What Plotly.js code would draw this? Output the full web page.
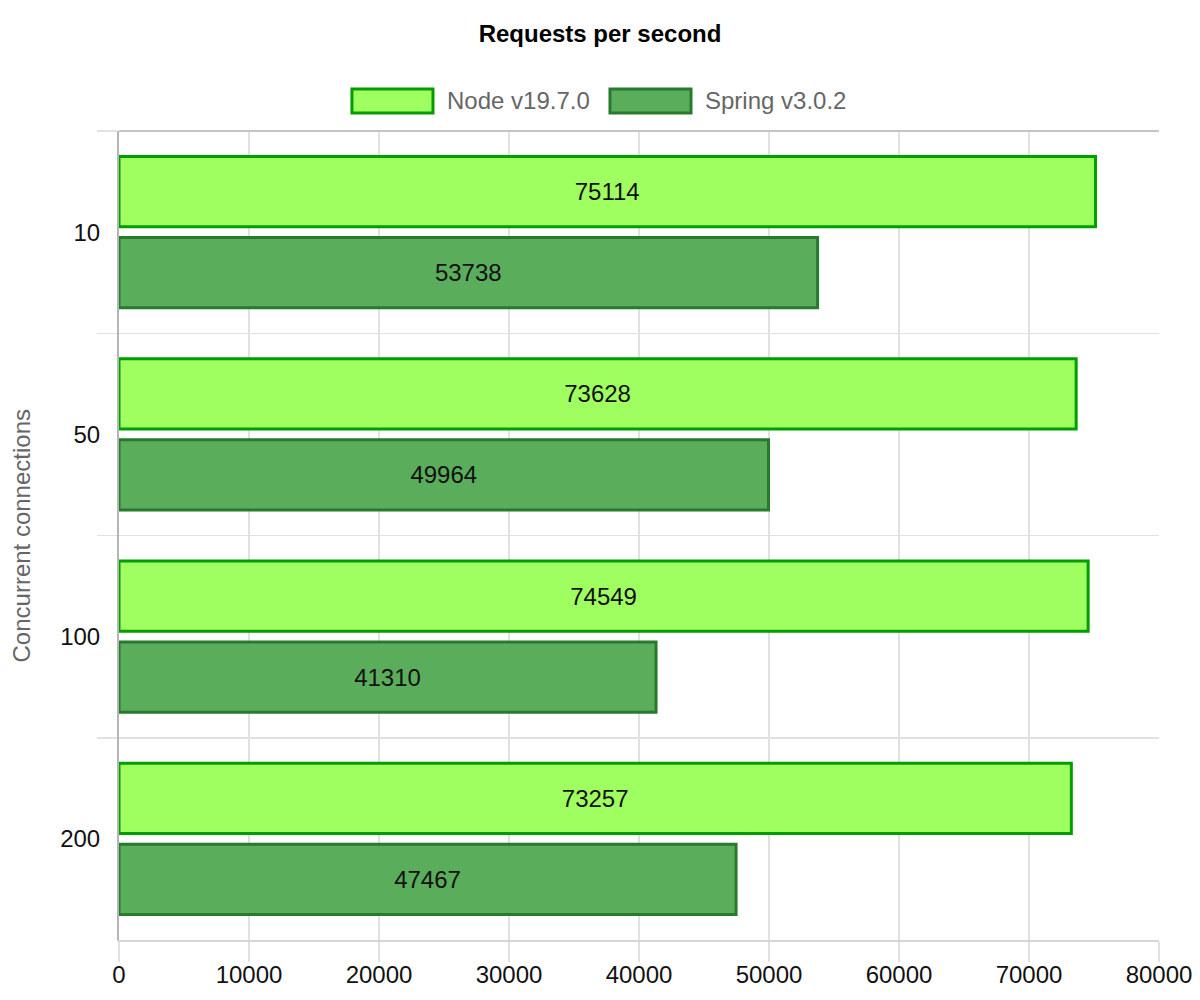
<!DOCTYPE html>
<html>
<head>
<meta charset="utf-8">
<script src="https://cdn.plot.ly/plotly-3.0.1.min.js"></script>
<style>
  html, body { margin: 0; padding: 0; background: #ffffff; }
  #chart { width: 1200px; height: 1000px; }
</style>
</head>
<body>
<div id="chart"></div>
<script>
  // Requests per second, grouped by number of concurrent connections
  var connections = ["10", "50", "100", "200"];
  var seriesNames = ["Node v19.7.0", "Spring v3.0.2"];
  var nodeRps = [75114, 73628, 74549, 73257];
  var springRps = [53738, 49964, 41310, 47467];
  var xTicks = [0, 10000, 20000, 30000, 40000, 50000, 60000, 70000, 80000];

  var FONT = "'Liberation Sans', Arial, sans-serif";
  var FS = 24;
  var fills = ["#a0ff60", "#5aad5a"];
  var borders = ["#009e00", "#277a2e"];

  function barTrace(i, vals) {
    return {
      type: "bar", orientation: "h", name: seriesNames[i],
      x: vals, y: connections,
      text: vals.map(String), textposition: "inside", insidetextanchor: "middle",
      constraintext: "none",
      textfont: { family: FONT, size: FS, color: "#111111" },
      marker: { color: fills[i], line: { color: borders[i], width: 3 } },
      hovertemplate: "%{y}: %{x}<extra>" + seriesNames[i] + "</extra>",
      showlegend: false
    };
  }

  var traces = [barTrace(0, nodeRps), barTrace(1, springRps)];

  // hand-made legend: wide boxes like the original chart
  var legendBoxes = [[0.2240, 0.3019], [0.4721, 0.5500]];
  var shapes = [], annotations = [];
  legendBoxes.forEach(function (b, i) {
    shapes.push({
      type: "rect", xref: "paper", yref: "paper", x0: b[0], x1: b[1], y0: 1.0222, y1: 1.0519,
      fillcolor: fills[i], line: { color: borders[i], width: 3 }
    });
    annotations.push({
      xref: "paper", yref: "paper", x: b[1] + 0.0115, y: 1.0371, xanchor: "left", yanchor: "middle",
      text: seriesNames[i], showarrow: false, font: { family: FONT, size: FS, color: "#666666" }
    });
  });
  annotations.push({
    xref: "paper", yref: "paper", x: -0.0933, y: 0.5, xanchor: "center", yanchor: "middle",
    textangle: -90, text: "Concurrent connections", showarrow: false,
    font: { family: FONT, size: FS, color: "#666666" }
  });
  // top border of the plot area
  shapes.push({ type: "line", xref: "paper", yref: "paper", x0: 0, x1: 1, y0: 1, y1: 1, line: { color: "#c4c4c4", width: 2 } });

  var layout = {
    width: 1200, height: 1000,
    paper_bgcolor: "#ffffff", plot_bgcolor: "#ffffff",
    font: { family: FONT, size: FS, color: "#111111" },
    margin: { l: 119, r: 41, t: 131, b: 60, autoexpand: false },
    title: { text: "<b>Requests per second</b>", x: 0.5, xanchor: "center", y: 0.966, yanchor: "middle",
      font: { family: FONT, size: FS, color: "#000000" } },
    barmode: "group", bargap: 0.2, bargroupgap: 0.13,
    xaxis: {
      range: [0, 80000], tickvals: xTicks, ticktext: xTicks.map(String),
      showgrid: true, gridcolor: "#e1e1e1", gridwidth: 1.5, zeroline: false,
      showline: true, linecolor: "#d6d6d6", linewidth: 2, mirror: false,
      ticks: "outside", ticklen: 20, tickcolor: "#e1e1e1", tickwidth: 1.5,
      ticklabelstandoff: -8,
      tickfont: { family: FONT, size: FS, color: "#111111" }, fixedrange: true
    },
    yaxis: {
      type: "category", autorange: "reversed", tickson: "boundaries",
      showgrid: true, gridcolor: "#e1e1e1", gridwidth: 1.5,
      showline: true, linecolor: "#b5b5b5", linewidth: 2,
      ticks: "outside", ticklen: 20, tickcolor: "#e1e1e1", tickwidth: 1.5,
      ticklabelstandoff: 12,
      tickfont: { family: FONT, size: FS, color: "#111111" }, fixedrange: true
    },
    shapes: shapes,
    annotations: annotations
  };

  Plotly.newPlot("chart", traces, layout, { displayModeBar: false, staticPlot: true });
</script>
</body>
</html>
